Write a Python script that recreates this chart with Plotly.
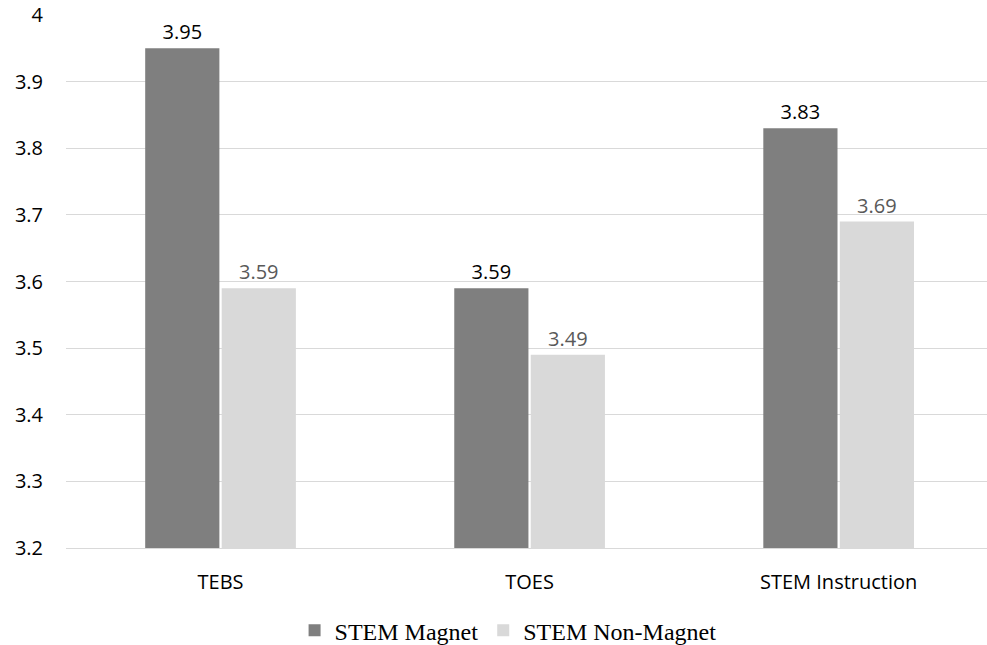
import plotly.graph_objects as go

categories = ["TEBS", "TOES", "STEM Instruction"]
magnet = [3.95, 3.59, 3.83]
non_magnet = [3.59, 3.49, 3.69]
series_names = ["STEM Magnet", "STEM Non-Magnet"]
y_ticks = [3.2, 3.3, 3.4, 3.5, 3.6, 3.7, 3.8, 3.9, 4.0]
y_tick_text = ["3.2", "3.3", "3.4", "3.5", "3.6", "3.7", "3.8", "3.9", "4"]

fig = go.Figure()
fig.add_trace(go.Bar(
    x=categories, y=magnet, name=series_names[0],
    marker=dict(color="#7f7f7f", line=dict(width=0)),
    text=[f"{v:.2f}" for v in magnet], textposition="outside",
    textfont=dict(family="Open Sans, sans-serif", size=20, color="#000000"),
    cliponaxis=False,
))
fig.add_trace(go.Bar(
    x=categories, y=non_magnet, name=series_names[1],
    marker=dict(color="#d9d9d9", line=dict(width=0)),
    text=[f"{v:.2f}" for v in non_magnet], textposition="outside",
    textfont=dict(family="Open Sans, sans-serif", size=20, color="#595959"),
    cliponaxis=False,
))

fig.update_layout(
    width=987, height=645,
    margin=dict(l=66, r=0, t=15, b=97, autoexpand=False),
    paper_bgcolor="white", plot_bgcolor="white",
    barmode="group", bargap=0.505, bargroupgap=0.03,
    font=dict(family="Open Sans, sans-serif", size=20, color="#000000"),
    showlegend=True,
    legend=dict(
        orientation="h", x=0.48, xanchor="center", y=-0.155, yanchor="middle",
        font=dict(family="Liberation Serif, Times New Roman, serif", size=24, color="#000000"),
        itemwidth=30, tracegroupgap=0,
    ),
    xaxis=dict(
        type="category", range=[-0.5, 2.48], automargin=False,
        showgrid=False, showline=True, linecolor="#d9d9d9", linewidth=1,
        ticks="", tickfont=dict(size=20, color="#000000"),
        ticklabelstandoff=16,
    ),
    yaxis=dict(
        range=[3.2, 4.0], tickvals=y_ticks, ticktext=y_tick_text, automargin=False,
        showgrid=True, gridcolor="#d9d9d9", gridwidth=1,
        zeroline=False, showline=False, ticks="",
        tickfont=dict(size=20, color="#000000"),
        ticklabelstandoff=22,
    ),
)

fig.write_html(
    "out.html",
    config={"displayModeBar": False},
    post_script="document.body.style.margin='0';document.body.style.overflow='hidden';",
)
